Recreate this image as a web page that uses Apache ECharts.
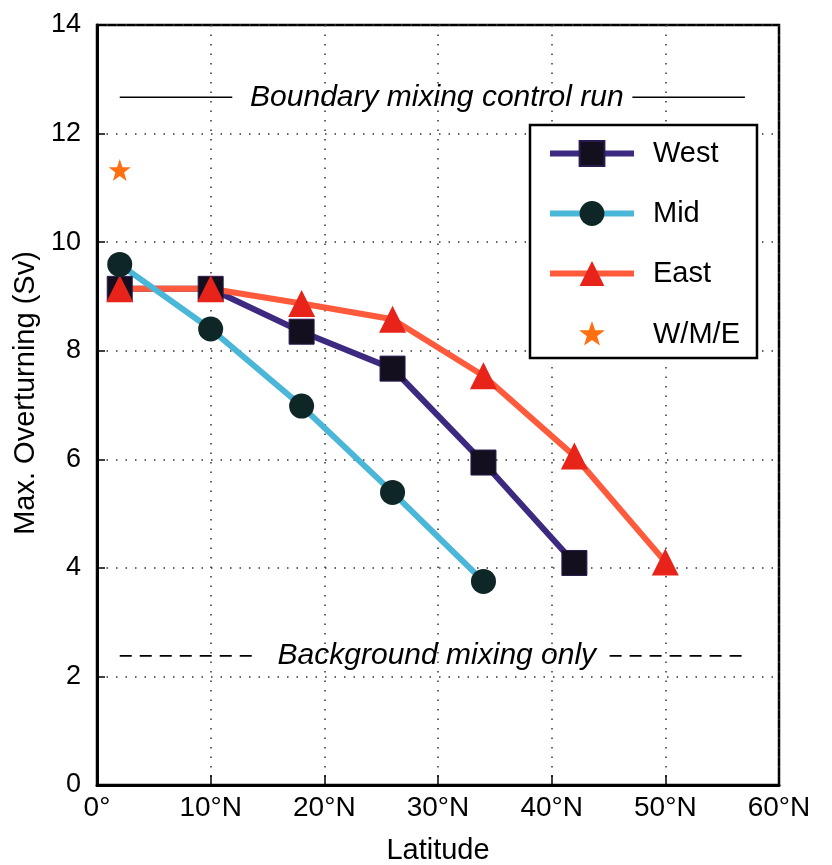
<!DOCTYPE html>
<html>
<head>
<meta charset="utf-8">
<script src="https://cdn.jsdelivr.net/npm/echarts@6/dist/echarts.min.js"></script>
<style>
  html, body { margin: 0; padding: 0; background: #fff; }
  #chart { width: 832px; height: 865px; }
</style>
</head>
<body>
<div id="chart"></div>
<script>
// values (latitude in degrees N, overturning in Sv)
var xTickLabels = ['0°', '10°N', '20°N', '30°N', '40°N', '50°N', '60°N']
var westLat = [2, 10, 18, 26, 34, 42]
var westVal = [9.14, 9.14, 8.35, 7.67, 5.94, 4.09]
var midLat = [2, 10, 18, 26, 34]
var midVal = [9.59, 8.40, 6.98, 5.39, 3.75]
var eastLat = [2, 10, 18, 26, 34, 42, 50]
var eastVal = [9.14, 9.14, 8.87, 8.58, 7.54, 6.06, 4.11]
var wmeLat = [2]
var wmeVal = [11.33]

// reference levels and the gaps left for their captions
var controlRunLevel = 12.67
var controlRunLeft = [2, 11.9]
var controlRunRight = [47.1, 57]
var controlRunText = 'Boundary mixing control run'
var backgroundLevel = 2.38
var backgroundLeft = [2, 13.9]
var backgroundRight = [45.1, 57.3]
var backgroundText = 'Background mixing only'
var captionLat = 29.9

function pairs (xs, ys) {
  return xs.map(function (x, i) { return [x, ys[i]] })
}
function flat (range, level) {
  return [[range[0], level], [range[1], level]]
}

var chart = echarts.init(document.getElementById('chart'))
var font = 'Liberation Sans, Arial, sans-serif'

// five-point star; the two empty moves widen its box so it draws smaller in the legend
var starPath = 'M0,-10 L2.35,-3.24 L9.51,-3.09 L3.80,1.24 L5.88,8.09 L0,4 L-5.88,8.09 L-3.80,1.24 L-9.51,-3.09 L-2.35,-3.24 Z'
var starLegendPath = 'path://M-11.5,-11.5 L-11.5,-11.5 M11.5,11.5 L11.5,11.5 ' + starPath

// caption labels sit on an invisible point
function caption (text) {
  return {
    show: true, position: [0, 0], align: 'center', verticalAlign: 'middle',
    formatter: text,
    fontSize: 30, fontStyle: 'italic', color: '#000', fontFamily: font
  }
}

var option = {
  animation: false,
  backgroundColor: '#fff',
  textStyle: { fontFamily: font },
  grid: {
    left: 97,
    right: 53,
    top: 25,
    bottom: 80,
    outerBoundsMode: 'none',
    show: true,
    borderColor: '#000',
    borderWidth: 2.5
  },
  legend: {
    orient: 'vertical',
    left: 530,
    top: 125,
    data: ['West', 'Mid', 'East', { name: 'W/M/E', icon: starLegendPath }],
    itemWidth: 84,
    itemHeight: 31,
    itemGap: 31,
    padding: [14, 17, 8, 17],
    borderColor: '#000',
    borderWidth: 2.5,
    backgroundColor: '#fff',
    lineStyle: { width: 6 },
    textStyle: { fontSize: 29, color: '#000', fontFamily: font, padding: [0, 0, 0, 14] }
  },
  xAxis: {
    type: 'value',
    min: 0,
    max: 60,
    interval: 10,
    name: 'Latitude',
    nameLocation: 'middle',
    nameGap: 51,
    nameTextStyle: { fontSize: 29, color: '#000' },
    axisLine: { lineStyle: { color: '#000', width: 3 } },
    axisTick: { inside: true, length: 10, lineStyle: { color: '#000', width: 1.5 } },
    axisLabel: {
      fontSize: 28,
      color: '#000',
      margin: 9,
      formatter: function (v) { return xTickLabels[Math.round(v / 10)] }
    },
    splitLine: { show: true, lineStyle: { color: '#333', type: [1.5, 8], width: 1.5 } }
  },
  yAxis: {
    type: 'value',
    min: 0,
    max: 14,
    interval: 2,
    name: 'Max. Overturning (Sv)',
    nameLocation: 'middle',
    nameGap: 55,
    nameTextStyle: { fontSize: 29, color: '#000', padding: [0, 0, 0, 24] },
    axisLine: { lineStyle: { color: '#000', width: 3 } },
    axisTick: { inside: true, length: 8, lineStyle: { color: '#000', width: 1.5 } },
    axisLabel: { fontSize: 27, color: '#000', margin: 16 },
    splitLine: { show: true, lineStyle: { color: '#333', type: [1.5, 8], width: 1.5 } }
  },
  series: [
    // reference lines
    {
      type: 'line', data: flat(controlRunLeft, controlRunLevel), symbol: 'none',
      lineStyle: { color: '#000', width: 1.5 }, silent: true
    },
    {
      type: 'line', data: flat(controlRunRight, controlRunLevel), symbol: 'none',
      lineStyle: { color: '#000', width: 1.5 }, silent: true
    },
    {
      type: 'line', data: flat(backgroundLeft, backgroundLevel), symbol: 'none',
      lineStyle: { color: '#000', width: 1.8, type: [12, 8] }, silent: true
    },
    {
      type: 'line', data: flat(backgroundRight, backgroundLevel), symbol: 'none',
      lineStyle: { color: '#000', width: 1.8, type: [12, 8] }, silent: true
    },
    {
      type: 'scatter', symbolSize: 0, silent: true,
      itemStyle: { opacity: 1 },
      data: [[captionLat, controlRunLevel]],
      label: caption(controlRunText)
    },
    {
      type: 'scatter', symbolSize: 0, silent: true,
      itemStyle: { opacity: 1 },
      data: [[captionLat, backgroundLevel]],
      label: caption(backgroundText)
    },
    // model runs
    {
      name: 'West',
      type: 'line',
      data: pairs(westLat, westVal),
      symbol: 'rect',
      symbolSize: 25,
      lineStyle: { color: '#3d2a80', width: 6 },
      itemStyle: { color: '#140f1e', borderColor: '#2a1a50', borderWidth: 1 }
    },
    {
      name: 'East',
      type: 'line',
      data: pairs(eastLat, eastVal),
      symbol: 'triangle',
      symbolSize: 27,
      lineStyle: { color: '#ff5a3c', width: 6 },
      itemStyle: { color: '#e8231a' }
    },
    {
      name: 'Mid',
      type: 'line',
      data: pairs(midLat, midVal),
      symbol: 'circle',
      symbolSize: 25,
      lineStyle: { color: '#4ab6d8', width: 6 },
      itemStyle: { color: '#0f2626' }
    },
    {
      name: 'W/M/E',
      type: 'scatter',
      data: pairs(wmeLat, wmeVal),
      symbol: 'path://' + starPath,
      symbolSize: 22,
      itemStyle: { color: '#ff6f10', opacity: 1 }
    }
  ]
}

chart.setOption(option)
</script>
</body>
</html>
